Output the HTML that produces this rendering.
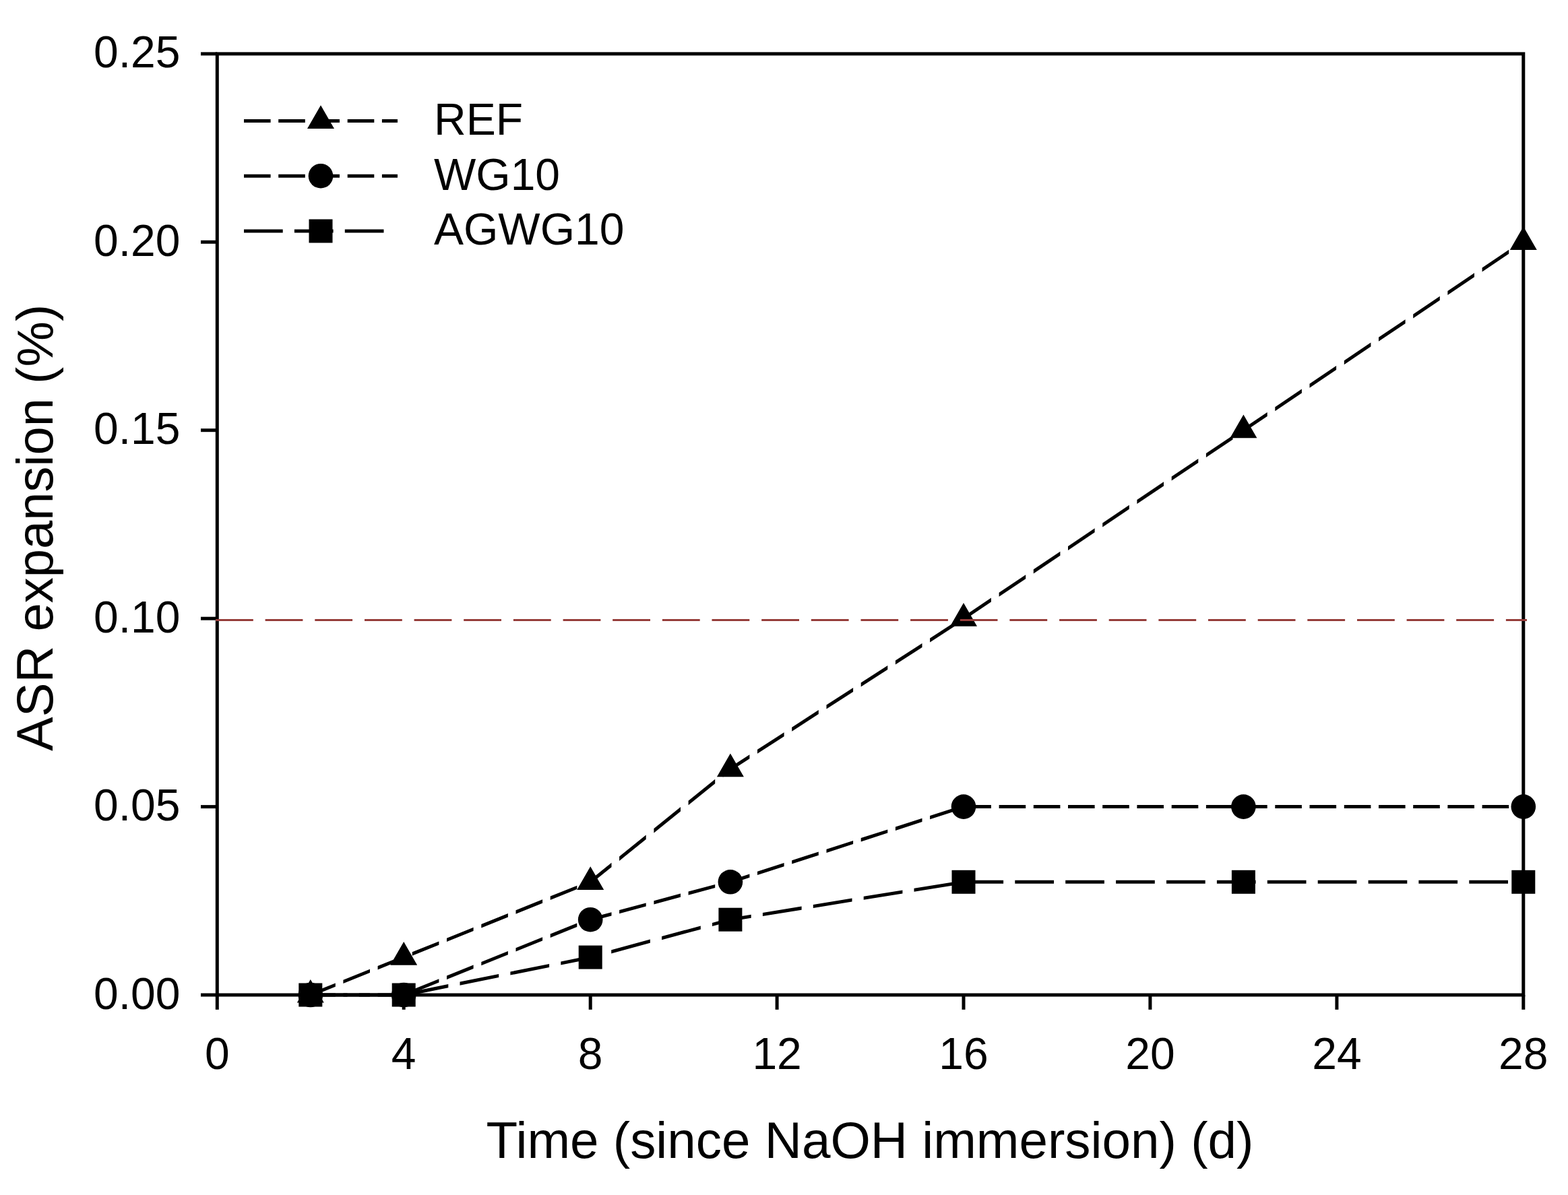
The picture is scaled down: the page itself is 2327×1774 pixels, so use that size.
<!DOCTYPE html><html><head><meta charset="utf-8"><title>ASR expansion vs time</title><style>html,body{margin:0;padding:0;background:#fff;overflow:hidden}svg{display:block}text{font-family:"Liberation Sans",Arial,sans-serif;fill:#000}</style></head><body>
<svg width="2327" height="1774" viewBox="0 0 2327 1774">
<rect width="2327" height="1774" fill="#fff"/>
<path d="M460.8 1474.5L515.6 1474.5L515.6 1479.5L460.8 1479.5ZM532.8 1474.5L590.5 1474.5L590.5 1479.5L532.8 1479.5ZM607.6 1472.8L665.3 1461.1L665.3 1466.2L607.6 1477.9ZM682.5 1457.6L740.2 1446.0L740.2 1451.1L682.5 1462.7ZM757.4 1442.5L815.1 1430.9L815.1 1436.0L757.4 1447.6ZM832.3 1427.4L876.2 1418.6L876.2 1423.7L832.3 1432.5ZM876.2 1418.5L890.0 1414.8L890.0 1420.0L876.2 1423.7ZM907.2 1410.2L964.9 1394.6L964.9 1399.8L907.2 1415.4ZM982.1 1390.0L1039.8 1374.5L1039.8 1379.7L982.1 1395.2ZM1057.0 1369.9L1083.9 1362.6L1083.9 1367.8L1057.0 1375.1ZM1083.9 1362.7L1114.7 1357.7L1114.7 1362.8L1083.9 1367.8ZM1131.9 1354.9L1189.6 1345.6L1189.6 1350.7L1131.9 1360.0ZM1206.8 1342.9L1264.5 1333.5L1264.5 1338.6L1206.8 1347.9ZM1281.7 1330.8L1339.4 1321.5L1339.4 1326.5L1281.7 1335.8ZM1356.5 1318.7L1414.2 1309.4L1414.2 1314.4L1356.5 1323.7ZM1431.4 1306.8L1489.1 1306.8L1489.1 1311.8L1431.4 1311.8ZM1506.3 1306.8L1564.0 1306.8L1564.0 1311.8L1506.3 1311.8ZM1581.2 1306.8L1638.9 1306.8L1638.9 1311.8L1581.2 1311.8ZM1656.1 1306.8L1713.8 1306.8L1713.8 1311.8L1656.1 1311.8ZM1731.0 1306.8L1788.7 1306.8L1788.7 1311.8L1731.0 1311.8ZM1805.9 1306.8L1845.4 1306.8L1845.4 1311.8L1805.9 1311.8ZM1845.4 1306.8L1863.6 1306.8L1863.6 1311.8L1845.4 1311.8ZM1880.8 1306.8L1938.5 1306.8L1938.5 1311.8L1880.8 1311.8ZM1955.7 1306.8L2013.4 1306.8L2013.4 1311.8L1955.7 1311.8ZM2030.6 1306.8L2088.3 1306.8L2088.3 1311.8L2030.6 1311.8ZM2105.4 1306.8L2163.1 1306.8L2163.1 1311.8L2105.4 1311.8ZM2180.3 1306.8L2238.0 1306.8L2238.0 1311.8L2180.3 1311.8ZM2255.2 1306.8L2260.8 1306.8L2260.8 1311.8L2255.2 1311.8Z" fill="#000"/>
<path d="M460.8 1474.5L497.8 1474.5L497.8 1479.5L460.8 1479.5ZM509.4 1474.5L549.0 1474.5L549.0 1479.5L509.4 1479.5ZM560.6 1474.5L599.2 1474.5L599.2 1479.5L560.6 1479.5ZM599.2 1474.3L600.2 1473.9L600.2 1479.3L599.2 1479.7ZM611.8 1469.2L651.4 1453.2L651.4 1458.6L611.8 1474.6ZM663.0 1448.5L702.6 1432.6L702.6 1438.0L663.0 1453.9ZM714.3 1427.9L753.9 1411.9L753.9 1417.3L714.3 1433.3ZM765.5 1407.2L805.1 1391.2L805.1 1396.6L765.5 1412.6ZM816.7 1386.5L856.3 1370.5L856.3 1375.9L816.7 1391.9ZM867.9 1365.9L876.2 1362.5L876.2 1367.9L867.9 1371.3ZM876.2 1362.6L907.5 1354.2L907.5 1359.4L876.2 1367.8ZM919.1 1351.1L958.7 1340.4L958.7 1345.6L919.1 1356.3ZM970.4 1337.3L1010.0 1326.6L1010.0 1331.8L970.4 1342.5ZM1021.6 1323.5L1061.2 1312.9L1061.2 1318.0L1021.6 1328.7ZM1072.8 1309.7L1083.9 1306.8L1083.9 1311.9L1072.8 1314.9ZM1083.9 1306.7L1112.4 1297.5L1112.4 1302.8L1083.9 1312.0ZM1124.0 1293.8L1163.6 1281.0L1163.6 1286.2L1124.0 1299.0ZM1175.2 1277.2L1214.8 1264.4L1214.8 1269.7L1175.2 1282.5ZM1226.5 1260.7L1266.1 1247.9L1266.1 1253.1L1226.5 1265.9ZM1277.7 1244.1L1317.3 1231.4L1317.3 1236.6L1277.7 1249.4ZM1328.9 1227.6L1368.5 1214.8L1368.5 1220.1L1328.9 1232.9ZM1380.1 1211.1L1419.7 1198.3L1419.7 1203.5L1380.1 1216.3ZM1431.3 1195.1L1470.9 1195.1L1470.9 1200.1L1431.3 1200.1ZM1482.6 1195.1L1522.2 1195.1L1522.2 1200.1L1482.6 1200.1ZM1533.8 1195.1L1573.4 1195.1L1573.4 1200.1L1533.8 1200.1ZM1585.0 1195.1L1624.6 1195.1L1624.6 1200.1L1585.0 1200.1ZM1636.2 1195.1L1675.8 1195.1L1675.8 1200.1L1636.2 1200.1ZM1687.4 1195.1L1727.0 1195.1L1727.0 1200.1L1687.4 1200.1ZM1738.7 1195.1L1778.3 1195.1L1778.3 1200.1L1738.7 1200.1ZM1789.9 1195.1L1829.5 1195.1L1829.5 1200.1L1789.9 1200.1ZM1841.1 1195.1L1845.4 1195.1L1845.4 1200.1L1841.1 1200.1ZM1845.4 1195.1L1880.7 1195.1L1880.7 1200.1L1845.4 1200.1ZM1892.3 1195.1L1931.9 1195.1L1931.9 1200.1L1892.3 1200.1ZM1943.5 1195.1L1983.1 1195.1L1983.1 1200.1L1943.5 1200.1ZM1994.8 1195.1L2034.4 1195.1L2034.4 1200.1L1994.8 1200.1ZM2046.0 1195.1L2085.6 1195.1L2085.6 1200.1L2046.0 1200.1ZM2097.2 1195.1L2136.8 1195.1L2136.8 1200.1L2097.2 1200.1ZM2148.4 1195.1L2188.0 1195.1L2188.0 1200.1L2148.4 1200.1ZM2199.6 1195.1L2239.2 1195.1L2239.2 1200.1L2199.6 1200.1ZM2250.9 1195.1L2260.8 1195.1L2260.8 1200.1L2250.9 1200.1Z" fill="#000"/>
<path d="M460.8 1474.3L497.8 1459.4L497.8 1464.8L460.8 1479.7ZM509.4 1454.7L549.0 1438.7L549.0 1444.1L509.4 1460.1ZM560.6 1434.0L599.2 1418.4L599.2 1423.8L560.6 1439.4ZM599.2 1418.4L600.2 1418.0L600.2 1423.4L599.2 1423.8ZM611.8 1413.3L651.4 1397.4L651.4 1402.7L611.8 1418.7ZM663.0 1392.7L702.6 1376.7L702.6 1382.1L663.0 1398.1ZM714.3 1372.0L753.9 1356.0L753.9 1361.4L714.3 1377.4ZM765.5 1351.3L805.1 1335.3L805.1 1340.7L765.5 1356.7ZM816.7 1330.6L856.3 1314.7L856.3 1320.1L816.7 1336.0ZM867.9 1310.0L876.2 1306.7L876.2 1312.0L867.9 1315.4ZM876.2 1306.1L907.5 1280.8L907.5 1287.2L876.2 1312.6ZM919.1 1271.4L958.7 1239.5L958.7 1245.9L919.1 1277.9ZM970.4 1230.1L1010.0 1198.1L1010.0 1204.6L970.4 1236.5ZM1021.6 1188.7L1061.2 1156.8L1061.2 1163.2L1021.6 1195.2ZM1072.8 1147.4L1083.9 1138.5L1083.9 1144.9L1072.8 1153.8ZM1083.9 1138.7L1112.4 1120.3L1112.4 1126.2L1083.9 1144.7ZM1124.0 1112.8L1163.6 1087.2L1163.6 1093.2L1124.0 1118.7ZM1175.2 1079.7L1214.8 1054.1L1214.8 1060.1L1175.2 1085.7ZM1226.5 1046.6L1266.1 1021.1L1266.1 1027.0L1226.5 1052.6ZM1277.7 1013.6L1317.3 988.0L1317.3 993.9L1277.7 1019.5ZM1328.9 980.5L1368.5 954.9L1368.5 960.9L1328.9 986.4ZM1380.1 947.4L1419.7 921.8L1419.7 927.8L1380.1 953.4ZM1431.3 914.3L1470.9 887.6L1470.9 893.6L1431.3 920.3ZM1482.6 879.8L1522.2 853.2L1522.2 859.2L1482.6 885.8ZM1533.8 845.3L1573.4 818.7L1573.4 824.7L1533.8 851.4ZM1585.0 810.9L1624.6 784.3L1624.6 790.3L1585.0 816.9ZM1636.2 776.4L1675.8 749.8L1675.8 755.8L1636.2 782.5ZM1687.4 742.0L1727.0 715.3L1727.0 721.4L1687.4 748.0ZM1738.7 707.5L1778.3 680.9L1778.3 686.9L1738.7 713.6ZM1789.9 673.1L1829.5 646.4L1829.5 652.5L1789.9 679.1ZM1841.1 638.6L1845.4 635.7L1845.4 641.8L1841.1 644.6ZM1845.4 635.7L1880.7 612.0L1880.7 618.0L1845.4 641.8ZM1892.3 604.2L1931.9 577.5L1931.9 583.6L1892.3 610.2ZM1943.5 569.7L1983.1 543.1L1983.1 549.1L1943.5 575.7ZM1994.8 535.3L2034.4 508.6L2034.4 514.6L1994.8 541.3ZM2046.0 500.8L2085.6 474.2L2085.6 480.2L2046.0 506.8ZM2097.2 466.4L2136.8 439.7L2136.8 445.7L2097.2 472.4ZM2148.4 431.9L2188.0 405.3L2188.0 411.3L2148.4 437.9ZM2199.6 397.4L2239.2 370.8L2239.2 376.8L2199.6 403.5ZM2250.9 363.0L2260.8 356.3L2260.8 362.3L2250.9 369.0Z" fill="#000"/>
<g fill="#000">
<rect x="443.3" y="1459.5" width="35" height="35"/>
<rect x="581.7" y="1459.5" width="35" height="35"/>
<rect x="858.7" y="1403.6" width="35" height="35"/>
<rect x="1066.4" y="1347.7" width="35" height="35"/>
<rect x="1412.5" y="1291.8" width="35" height="35"/>
<rect x="1827.9" y="1291.8" width="35" height="35"/>
<rect x="2243.3" y="1291.8" width="35" height="35"/>
<circle cx="460.8" cy="1477.0" r="18.3"/>
<circle cx="599.2" cy="1477.0" r="18.3"/>
<circle cx="876.2" cy="1365.2" r="18.3"/>
<circle cx="1083.9" cy="1309.3" r="18.3"/>
<circle cx="1430.0" cy="1197.6" r="18.3"/>
<circle cx="1845.4" cy="1197.6" r="18.3"/>
<circle cx="2260.8" cy="1197.6" r="18.3"/>
<path d="M460.8 1453.9L480.8 1488.5L440.8 1488.5Z"/>
<path d="M599.2 1398.0L619.2 1432.7L579.2 1432.7Z"/>
<path d="M876.2 1286.3L896.2 1320.9L856.2 1320.9Z"/>
<path d="M1083.9 1118.6L1103.9 1153.2L1063.9 1153.2Z"/>
<path d="M1430.0 895.1L1450.0 929.7L1410.0 929.7Z"/>
<path d="M1845.4 615.6L1865.4 650.3L1825.4 650.3Z"/>
<path d="M2260.8 336.2L2280.8 370.9L2240.8 370.9Z"/>
</g>
<g stroke="#000" stroke-width="5" fill="none">
<rect x="322.3" y="79.9" width="1938.5" height="1397.1"/>
<line x1="298" y1="1477.0" x2="322.3" y2="1477.0"/>
<line x1="298" y1="1197.6" x2="322.3" y2="1197.6"/>
<line x1="298" y1="918.2" x2="322.3" y2="918.2"/>
<line x1="298" y1="638.7" x2="322.3" y2="638.7"/>
<line x1="298" y1="359.3" x2="322.3" y2="359.3"/>
<line x1="298" y1="79.9" x2="322.3" y2="79.9"/>
<line x1="322.3" y1="1477.0" x2="322.3" y2="1498.8"/>
<line x1="599.2" y1="1477.0" x2="599.2" y2="1498.8"/>
<line x1="876.2" y1="1477.0" x2="876.2" y2="1498.8"/>
<line x1="1153.1" y1="1477.0" x2="1153.1" y2="1498.8"/>
<line x1="1430.0" y1="1477.0" x2="1430.0" y2="1498.8"/>
<line x1="1706.9" y1="1477.0" x2="1706.9" y2="1498.8"/>
<line x1="1983.9" y1="1477.0" x2="1983.9" y2="1498.8"/>
<line x1="2260.8" y1="1477.0" x2="2260.8" y2="1498.8"/>
</g>
<path d="M320.0 918.9L375.8 918.9L375.8 921.9L320.0 921.9ZM393.6 918.9L449.4 918.9L449.4 921.9L393.6 921.9ZM467.3 918.9L523.1 918.9L523.1 921.9L467.3 921.9ZM541.0 918.9L596.8 918.9L596.8 921.9L541.0 921.9ZM614.6 918.9L670.4 918.9L670.4 921.9L614.6 921.9ZM688.2 918.9L744.0 918.9L744.0 921.9L688.2 921.9ZM761.9 918.9L817.7 918.9L817.7 921.9L761.9 921.9ZM835.6 918.9L891.4 918.9L891.4 921.9L835.6 921.9ZM909.2 918.9L965.0 918.9L965.0 921.9L909.2 921.9ZM982.9 918.9L1038.7 918.9L1038.7 921.9L982.9 921.9ZM1056.5 918.9L1112.3 918.9L1112.3 921.9L1056.5 921.9ZM1130.2 918.9L1186.0 918.9L1186.0 921.9L1130.2 921.9ZM1203.8 918.9L1259.6 918.9L1259.6 921.9L1203.8 921.9ZM1277.5 918.9L1333.2 918.9L1333.2 921.9L1277.5 921.9ZM1351.1 918.9L1406.9 918.9L1406.9 921.9L1351.1 921.9ZM1424.8 918.9L1480.5 918.9L1480.5 921.9L1424.8 921.9ZM1498.4 918.9L1554.2 918.9L1554.2 921.9L1498.4 921.9ZM1572.1 918.9L1627.9 918.9L1627.9 921.9L1572.1 921.9ZM1645.7 918.9L1701.5 918.9L1701.5 921.9L1645.7 921.9ZM1719.4 918.9L1775.2 918.9L1775.2 921.9L1719.4 921.9ZM1793.0 918.9L1848.8 918.9L1848.8 921.9L1793.0 921.9ZM1866.7 918.9L1922.5 918.9L1922.5 921.9L1866.7 921.9ZM1940.3 918.9L1996.1 918.9L1996.1 921.9L1940.3 921.9ZM2014.0 918.9L2069.8 918.9L2069.8 921.9L2014.0 921.9ZM2087.6 918.9L2143.4 918.9L2143.4 921.9L2087.6 921.9ZM2161.2 918.9L2217.1 918.9L2217.1 921.9L2161.2 921.9ZM2234.9 918.9L2266.0 918.9L2266.0 921.9L2234.9 921.9Z" fill="#963d3a"/>
<text x="267.5" y="1497.5" font-size="66" text-anchor="end">0.00</text>
<text x="267.5" y="1218.1" font-size="66" text-anchor="end">0.05</text>
<text x="267.5" y="938.7" font-size="66" text-anchor="end">0.10</text>
<text x="267.5" y="659.2" font-size="66" text-anchor="end">0.15</text>
<text x="267.5" y="379.8" font-size="66" text-anchor="end">0.20</text>
<text x="267.5" y="100.4" font-size="66" text-anchor="end">0.25</text>
<text x="322.3" y="1586.5" font-size="66" text-anchor="middle">0</text>
<text x="599.2" y="1586.5" font-size="66" text-anchor="middle">4</text>
<text x="876.2" y="1586.5" font-size="66" text-anchor="middle">8</text>
<text x="1153.1" y="1586.5" font-size="66" text-anchor="middle">12</text>
<text x="1430.0" y="1586.5" font-size="66" text-anchor="middle">16</text>
<text x="1706.9" y="1586.5" font-size="66" text-anchor="middle">20</text>
<text x="1983.9" y="1586.5" font-size="66" text-anchor="middle">24</text>
<text x="2260.8" y="1586.5" font-size="66" text-anchor="middle">28</text>
<text x="721.6" y="1718.5" font-size="76.4">Time (since NaOH immersion) (d)</text>
<text transform="translate(78.2,783.3) rotate(-90)" font-size="76" text-anchor="middle">ASR expansion (%)</text>
<path d="M362.0 176.9L401.6 176.9L401.6 181.9L362.0 181.9ZM413.2 176.9L452.8 176.9L452.8 181.9L413.2 181.9ZM464.4 176.9L504.0 176.9L504.0 181.9L464.4 181.9ZM515.7 176.9L555.3 176.9L555.3 181.9L515.7 181.9ZM566.9 176.9L590.0 176.9L590.0 181.9L566.9 181.9Z" fill="#000"/>
<g fill="#000"><path d="M476.0 156.3L496.0 190.9L456.0 190.9Z"/></g>
<text x="644" y="200" font-size="66">REF</text>
<path d="M362.0 258.7L401.6 258.7L401.6 263.7L362.0 263.7ZM413.2 258.7L452.8 258.7L452.8 263.7L413.2 263.7ZM464.4 258.7L504.0 258.7L504.0 263.7L464.4 263.7ZM515.7 258.7L555.3 258.7L555.3 263.7L515.7 263.7ZM566.9 258.7L590.0 258.7L590.0 263.7L566.9 263.7Z" fill="#000"/>
<g fill="#000"><circle cx="476.0" cy="261.2" r="18.3"/></g>
<text x="644" y="281.5" font-size="66">WG10</text>
<path d="M362.0 340.5L419.7 340.5L419.7 345.5L362.0 345.5ZM436.9 340.5L494.6 340.5L494.6 345.5L436.9 345.5ZM511.8 340.5L569.5 340.5L569.5 345.5L511.8 345.5Z" fill="#000"/>
<g fill="#000"><rect x="458.5" y="325.5" width="35" height="35"/></g>
<text x="644" y="363" font-size="66">AGWG10</text>
</svg></body></html>
